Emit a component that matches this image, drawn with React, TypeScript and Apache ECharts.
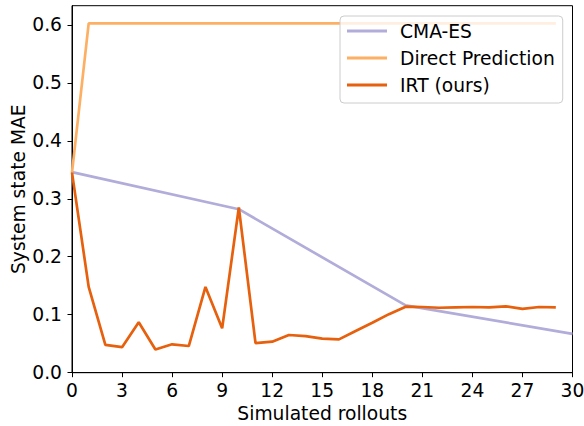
import React, { useEffect, useRef } from "react";
import * as echarts from "echarts";

const xCMA = [0, 10, 20, 30];
const yCMA = [0.346, 0.282, 0.116, 0.067];

const xDirect = [0, 1, 2, 5, 10, 15, 20, 25, 29];
const yDirect = [0.345, 0.6025, 0.6025, 0.6025, 0.6025, 0.6025, 0.6025, 0.6025, 0.6025];

const xIRT = [0, 1, 2, 3, 4, 5, 6, 7, 8, 9, 10, 11, 12, 13, 14, 15, 16, 17, 18, 19, 20, 21, 22, 23, 24, 25, 26, 27, 28, 29];
const yIRT = [0.345, 0.148, 0.048, 0.044, 0.087, 0.040, 0.049, 0.046, 0.148, 0.0765, 0.285, 0.051, 0.0535, 0.065, 0.063, 0.0587, 0.0575, 0.072, 0.0862, 0.101, 0.1138, 0.1133, 0.112, 0.1127, 0.1133, 0.1127, 0.1145, 0.110, 0.1133, 0.1127];

const xTicks = [0, 3, 6, 9, 12, 15, 18, 21, 24, 27, 30];
const yTicks = [0, 0.1, 0.2, 0.3, 0.4, 0.5, 0.6];

const FONT = "DejaVu Sans";
const FS = 18.7;

export default function App() {
  const ref = useRef<HTMLDivElement>(null);
  useEffect(() => {
    document.body.style.margin = "0";
    const chart = echarts.init(ref.current!, null, { renderer: "svg" });
    const zip = (xs: number[], ys: number[]) => xs.map((x, i) => [x, ys[i]]);
    chart.setOption({
      animation: false,
      grid: {
        left: 72,
        right: 11.5,
        top: 5.7,
        bottom: 53.3,
        show: true,
        borderColor: "#000",
        borderWidth: 1,
        containLabel: false,
        outerBoundsMode: "none",
      },
      legend: {
        orient: "vertical",
        left: 340,
        top: 16,
        padding: [4, 8, 7, 7],
        backgroundColor: "rgba(255,255,255,0.8)",
        borderColor: "#cccccc",
        borderWidth: 1,
        borderRadius: 4,
        itemWidth: 40,
        itemHeight: 3,
        itemGap: 5,
        icon: "rect",
        textStyle: { fontFamily: FONT, fontSize: FS, color: "#000", lineHeight: 22, padding: [0, 0, 0, 8] },
        data: ["CMA-ES", "Direct Prediction", "IRT (ours)"],
      },
      xAxis: {
        type: "value",
        min: 0,
        max: 30,
        interval: 3,
        name: "Simulated rollouts",
        nameLocation: "middle",
        nameGap: 31.5,
        nameMoveOverlap: false,
        nameTextStyle: { fontFamily: FONT, fontSize: FS, color: "#000" },
        splitLine: { show: false },
        axisLine: { lineStyle: { color: "#000", width: 1 } },
        axisTick: { show: true, inside: false, length: 4.5, lineStyle: { color: "#000" }, customValues: xTicks },
        axisLabel: { fontFamily: FONT, fontSize: FS, color: "#000", margin: 8, customValues: xTicks },
      },
      yAxis: {
        type: "value",
        min: 0,
        max: 0.633,
        interval: 0.1,
        name: "System state MAE",
        nameLocation: "middle",
        nameGap: 44,
        nameMoveOverlap: false,
        nameTextStyle: { fontFamily: FONT, fontSize: FS, color: "#000" },
        splitLine: { show: false },
        axisLine: { show: true, lineStyle: { color: "#000", width: 1 } },
        axisTick: { show: true, inside: false, length: 4.5, lineStyle: { color: "#000" }, customValues: yTicks },
        axisLabel: {
          fontFamily: FONT,
          fontSize: FS,
          color: "#000",
          margin: 10,
          customValues: yTicks,
          formatter: (v: number) => v.toFixed(1),
        },
      },
      series: [
        {
          name: "CMA-ES",
          type: "line",
          data: zip(xCMA, yCMA),
          showSymbol: false,
          symbol: "none",
          itemStyle: { color: "#b1acd9" },
          lineStyle: { color: "#b1acd9", width: 2.7 },
          z: 2,
        },
        {
          name: "Direct Prediction",
          type: "line",
          data: zip(xDirect, yDirect),
          showSymbol: false,
          symbol: "none",
          itemStyle: { color: "#fdb063" },
          lineStyle: { color: "#fdb063", width: 2.7 },
          z: 3,
        },
        {
          name: "IRT (ours)",
          type: "line",
          data: zip(xIRT, yIRT),
          showSymbol: false,
          symbol: "none",
          itemStyle: { color: "#e6600d" },
          lineStyle: { color: "#e6600d", width: 2.7 },
          z: 4,
        },
      ],
    });
    return () => chart.dispose();
  }, []);
  return <div ref={ref} style={{ width: 584, height: 426 }} />;
}
